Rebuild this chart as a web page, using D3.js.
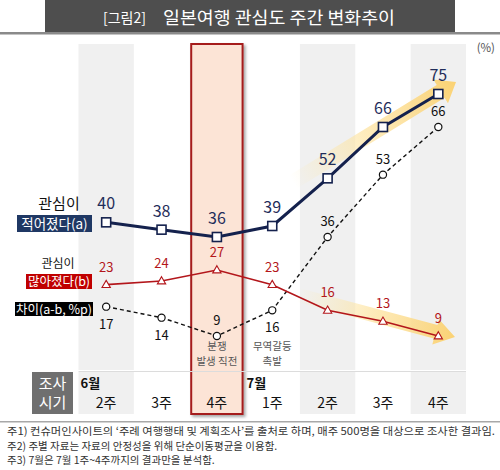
<!DOCTYPE html>
<html><head><meta charset="utf-8">
<script src="https://cdn.jsdelivr.net/npm/d3@7/dist/d3.min.js"></script>
<style>body{margin:0;background:#fff}svg{display:block}text{font-family:"Noto Sans CJK KR","Noto Sans",sans-serif}</style>
</head><body>
<svg id="c" width="500" height="470"></svg>
<script>
const weeks = ["2주","3주","4주","1주","2주","3주","4주"];
const months = [{i:0,label:"6월"},{i:3,label:"7월"}];
const lessInterest = [40,38,36,39,52,66,75];
const moreInterest = [23,24,27,23,16,13,9];
const gapValues = [17,14,9,16,36,53,66];
const gapLabelBelow = [true,true,false,true,false,false,false];
const events = [{i:2,lines:["분쟁","발생 직전"]},{i:3,lines:["무역갈등","촉발"]}];
const notes = [
 "주1) 컨슈머인사이트의 ‘주례 여행행태 및 계획조사’를 출처로 하며, 매주 500명을 대상으로 조사한 결과임.",
 "주2) 주별 자료는 자료의 안정성을 위해 단순이동평균을 이용함.",
 "주3) 7월은 7월 1주~4주까지의 결과만을 분석함."
];
const titleSmall = "[그림2]";
const titleMain = "일본여행 관심도 주간 변화추이";

const svg = d3.select("#c");
const defs = svg.append("defs");
const sh = defs.append("filter").attr("id","sh").attr("x","-20%").attr("y","-5%").attr("width","140%").attr("height","110%");
sh.append("feDropShadow").attr("dx",2).attr("dy",2).attr("stdDeviation",1.5).attr("flood-color","#000").attr("flood-opacity",0.35);

const x = d3.scaleBand().domain(d3.range(weeks.length)).range([78.5,466]).padding(0);
const bw = x.bandwidth();
const cx = i => x(i) + bw/2;
const y = d3.scaleLinear().domain([0,75]).range([369,94]);
const plotTop = 44, plotBot = 370, tabTop = 372, tabBot = 414;

// title
svg.append("rect").attr("x",45).attr("y",0).attr("width",410).attr("height",32).attr("fill","#4e4e4e");
svg.append("rect").attr("x",0).attr("y",32).attr("width",500).attr("height",2.5).attr("fill","#8a8a8a");
svg.append("text").attr("x",103).attr("y",23).attr("fill","#fff").attr("font-size",14).text(titleSmall);
svg.append("text").attr("x",163).attr("y",24).attr("fill","#fff").attr("font-size",17.5).attr("textLength",232).attr("lengthAdjust","spacingAndGlyphs").text(titleMain);
svg.append("text").attr("x",495).attr("y",52).attr("text-anchor","end").attr("fill","#555").attr("font-size",11.5).text("(%)");

// bands
weeks.forEach((w,i)=>{
  if(i%2===0 && i!==2){
    svg.append("rect").attr("x",x(i)).attr("y",plotTop).attr("width",bw).attr("height",plotBot-plotTop).attr("fill","#f0f0f0");
    svg.append("rect").attr("x",x(i)).attr("y",tabTop).attr("width",bw).attr("height",tabBot-tabTop).attr("fill","#f0f0f0");
  }
});
// highlight
svg.append("rect").attr("x",x(2)+2).attr("y",plotTop).attr("width",bw-4).attr("height",tabBot-plotTop)
  .attr("fill","#fce4d6").attr("stroke","#a51c1c").attr("stroke-width",2).attr("filter","url(#sh)");
svg.append("line").attr("x1",x(0)).attr("x2",466).attr("y1",tabTop-0.5).attr("y2",tabTop-0.5).attr("stroke","#dcdcdc").attr("stroke-width",1);

// arrows
function arrow(id,x0,y0,x1,y1,bodyW,headW,headL){
  const gl = defs.append("linearGradient").attr("id",id).attr("x1",0).attr("y1",0).attr("x2",1).attr("y2",0);
  gl.append("stop").attr("offset",0).attr("stop-color","#fde8a8").attr("stop-opacity",0);
  gl.append("stop").attr("offset",0.45).attr("stop-color","#fde3a0").attr("stop-opacity",0.7);
  gl.append("stop").attr("offset",1).attr("stop-color","#fbd273").attr("stop-opacity",1);
  const L = Math.hypot(x1-x0,y1-y0), ang = Math.atan2(y1-y0,x1-x0)*180/Math.PI;
  const pts = [[0,-bodyW/2],[L-headL,-bodyW/2],[L-headL,-headW/2],[L,0],[L-headL,headW/2],[L-headL,bodyW/2],[0,bodyW/2]];
  svg.append("g").attr("transform",`translate(${x0},${y0}) rotate(${ang})`)
    .append("polygon").attr("points",pts.map(p=>p.join(",")).join(" ")).attr("fill",`url(#${id})`);
}
arrow("ab",293,182,456,82,15,28,18);
arrow("ar",298,295,455,337,14,26,20);

// lines
const line = d3.line().x((d,i)=>cx(i)).y(d=>y(d));
svg.append("path").datum(gapValues).attr("d",line).attr("fill","none").attr("stroke","#111").attr("stroke-width",1.4).attr("stroke-dasharray","4,3");
svg.append("path").datum(moreInterest).attr("d",line).attr("fill","none").attr("stroke","#b3161b").attr("stroke-width",1.6);
svg.append("path").datum(lessInterest).attr("d",line).attr("fill","none").attr("stroke","#14214d").attr("stroke-width",3);

// markers
svg.selectAll(".gc").data(gapValues).join("circle").attr("cx",(d,i)=>cx(i)).attr("cy",d=>y(d)).attr("r",3.6)
  .attr("fill","#fff").attr("stroke","#111").attr("stroke-width",1.2);
const tri = d3.symbol().type(d3.symbolTriangle).size(30);
svg.selectAll(".rt").data(moreInterest).join("path").attr("d",tri).attr("transform",(d,i)=>`translate(${cx(i)},${y(d)+0.5})`)
  .attr("fill","#fff").attr("stroke","#b3161b").attr("stroke-width",1.1);
svg.selectAll(".bs").data(lessInterest).join("rect").attr("x",(d,i)=>cx(i)-4.5).attr("y",d=>y(d)-4.5).attr("width",9).attr("height",9)
  .attr("fill","#fff").attr("stroke","#14214d").attr("stroke-width",1.6);

// value labels
svg.selectAll(".bl").data(lessInterest).join("text").attr("x",(d,i)=>cx(i)).attr("y",d=>y(d)-13).attr("text-anchor","middle")
  .attr("font-size",16).attr("fill","#1f2d5a").text(d=>d);
svg.selectAll(".rl").data(moreInterest).join("text").attr("x",(d,i)=>cx(i)).attr("y",d=>y(d)-13).attr("text-anchor","middle")
  .attr("font-size",13).attr("fill","#b3161b").text(d=>d);
svg.selectAll(".gl").data(gapValues).join("text").attr("x",(d,i)=>cx(i)).attr("y",(d,i)=>gapLabelBelow[i]?y(d)+22:y(d)-11).attr("text-anchor","middle")
  .attr("font-size",13).attr("fill","#111").text(d=>d);

// event annotations
events.forEach(e=>{
  e.lines.forEach((s,k)=>svg.append("text").attr("x",cx(e.i)).attr("y",349.5+k*15.5).attr("text-anchor","middle")
    .attr("font-size",10.5).attr("fill","#555").text(s));
});

// legend boxes
svg.append("text").attr("x",59).attr("y",209).attr("text-anchor","middle").attr("font-size",15).attr("fill","#111").text("관심이");
svg.append("rect").attr("x",17).attr("y",215).attr("width",75).attr("height",17).attr("fill","#1f3864");
svg.append("text").attr("x",54.5).attr("y",228.5).attr("text-anchor","middle").attr("font-size",13.5).attr("fill","#fff").text("적어졌다(a)");
svg.append("text").attr("x",58).attr("y",267.5).attr("text-anchor","middle").attr("font-size",12).attr("fill","#111").text("관심이");
svg.append("rect").attr("x",26).attr("y",274).attr("width",66).attr("height",15).attr("fill","#c00000");
svg.append("text").attr("x",59).attr("y",286).attr("text-anchor","middle").attr("font-size",12.5).attr("fill","#fff").text("많아졌다(b)");
svg.append("rect").attr("x",15).attr("y",302).attr("width",78).attr("height",14).attr("fill","#000");
svg.append("text").attr("x",54).attr("y",313.5).attr("text-anchor","middle").attr("font-size",12.5).attr("fill","#fff").text("차이(a-b, %p)");

// table
svg.append("rect").attr("x",32).attr("y",tabTop).attr("width",41).attr("height",tabBot-tabTop).attr("fill","#6f6f6f");
svg.append("text").attr("x",52.5).attr("y",389).attr("text-anchor","middle").attr("font-size",15).attr("fill","#fff").text("조사");
svg.append("text").attr("x",52.5).attr("y",408).attr("text-anchor","middle").attr("font-size",15).attr("fill","#fff").text("시기");
months.forEach(m=>svg.append("text").attr("x",x(m.i)+2).attr("y",388).attr("font-size",13).attr("font-weight","bold").attr("fill","#111").text(m.label));
svg.selectAll(".wk").data(weeks).join("text").attr("x",(d,i)=>cx(i)).attr("y",408).attr("text-anchor","middle")
  .attr("font-size",14).attr("fill","#111").text(d=>d);

// notes
svg.append("rect").attr("x",0).attr("y",421).attr("width",500).attr("height",1.5).attr("fill","#a8a8a8");
notes.forEach((t,k)=>{
  const tx = svg.append("text").attr("x",7).attr("y",435+k*14.5).attr("font-size",10.5).attr("fill","#333").text(t);
  if(k===0) tx.attr("textLength",488).attr("lengthAdjust","spacingAndGlyphs");
});
</script>
</body></html>
